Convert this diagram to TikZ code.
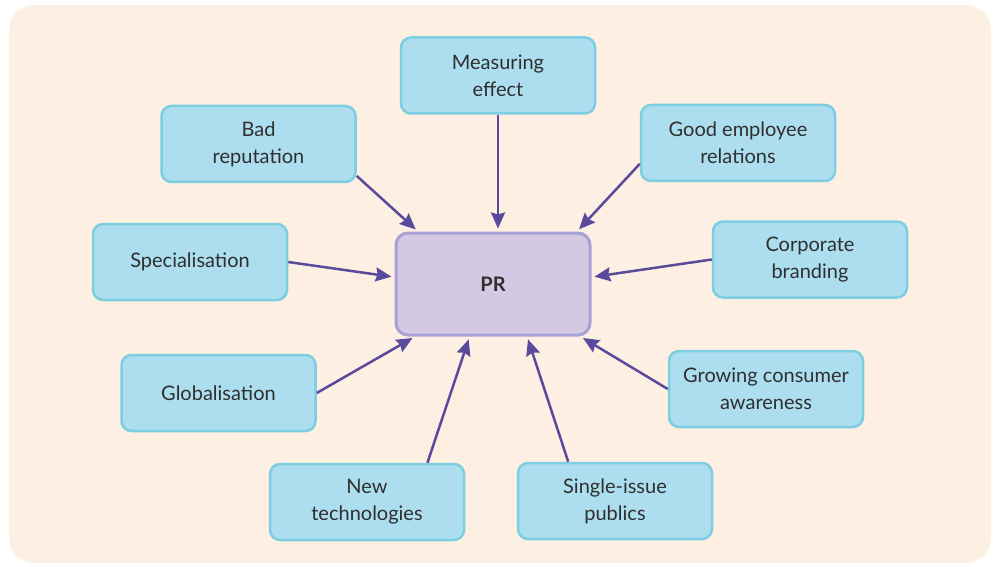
\documentclass[tikz,border=0pt]{standalone}
\usepackage{fontspec}
\setmainfont{Lato}
\usetikzlibrary{arrows.meta}
\definecolor{bgcream}{HTML}{FDF0E2}
\definecolor{boxblue}{HTML}{ACDEEF}
\definecolor{lineblue}{HTML}{7CCEE0}
\definecolor{prfill}{HTML}{D3C9E2}
\definecolor{prline}{HTML}{A7A1D5}
\definecolor{arrowpurple}{HTML}{5A4A9C}
\definecolor{txtgrey}{HTML}{2F2F2F}
\begin{document}
\begin{tikzpicture}[x=1pt,y=-1pt,line join=round,
	factor/.style={draw=lineblue,fill=boxblue,line width=2.5pt,rounded corners=10pt,minimum width=194pt,minimum height=76pt,align=center,text=txtgrey,font=\fontsize{20}{27}\selectfont,inner sep=0pt},
	centre/.style={draw=prline,fill=prfill,line width=3pt,rounded corners=12pt,minimum width=194pt,minimum height=102pt,text=txtgrey,font=\fontsize{20}{27}\selectfont\bfseries},
	push/.style={draw=arrowpurple,line width=2.5pt,-{Stealth[length=16pt,width=14pt,inset=2pt]},shorten >=3pt}]
	\useasboundingbox (0,0) rectangle (994,567);
	\fill[bgcream,rounded corners=25pt] (9,5) rectangle (991,563);
	% centre and factors
	\node[centre] (pr) at (493,284) {PR};
	\node[factor] (meas) at (498,75.5) {Measuring\\effect};
	\node[factor] (bad) at (258.5,144) {Bad\\reputation};
	\node[factor] (good) at (738,143) {Good employee\\relations};
	\node[factor] (spec) at (190,262) {Specialisation};
	\node[factor] (corp) at (810,259.5) {Corporate\\branding};
	\node[factor] (glob) at (218.5,393) {Globalisation};
	\node[factor] (grow) at (766,389) {Growing consumer\\awareness};
	\node[factor] (tech) at (367,502) {New\\technologies};
	\node[factor] (single) at (615,501) {Single-issue\\publics};
	% arrows into PR
	\draw[push] (meas.south) -- (meas.south |- pr.north);
	\draw[push] (bad.342) -- (pr.145);
	\draw[push] (good.192) -- (pr.32);
	\draw[push] (spec.east) -- (pr.176);
	\draw[push] (corp.west) -- (pr.4);
	\draw[push] (glob.east) -- (pr.214);
	\draw[push] (tech.33) -- (pr.246);
	\draw[push] (single.140) -- (pr.303);
	\draw[push] (grow.west) -- (pr.329);
\end{tikzpicture}
\end{document}
